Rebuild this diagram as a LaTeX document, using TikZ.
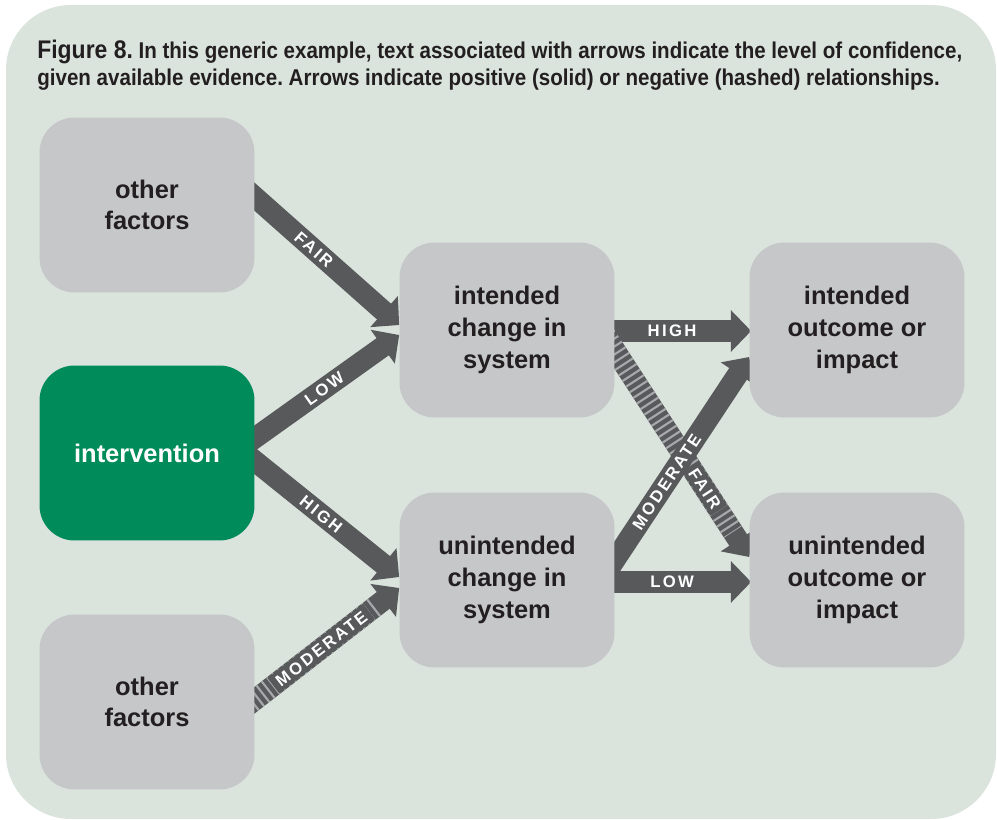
\documentclass[tikz,border=0pt]{standalone}
\usepackage{fontspec}
\setmainfont{Liberation Sans}
\newfontfamily\lblfont{Liberation Sans}[LetterSpace=14]
\newfontfamily\capfont{Liberation Sans}[FakeStretch=0.9]
\usepackage{tikz}
\usetikzlibrary{arrows.meta}
\usetikzlibrary{calc}
\frenchspacing

\definecolor{panel}{HTML}{DAE4DD}
\definecolor{boxgray}{HTML}{C6C7C9}
\definecolor{intgreen}{HTML}{008B5B}
\definecolor{arrgray}{HTML}{58595B}
\definecolor{stripegray}{HTML}{A7A9AC}
\definecolor{ink}{HTML}{231F20}

\pgfdeclarelayer{back}
\pgfdeclarelayer{links}
\pgfsetlayers{back,links,main}

\begin{document}
\begin{tikzpicture}
    [x=0.02cm, y=-0.02cm, every node/.style={text=ink},
    box/.style={fill=boxgray, rounded corners=0.7cm, minimum width=4.3cm,
      minimum height=3.5cm, align=center, inner sep=0pt,
      font=\bfseries\fontsize{14.5}{18}\selectfont},
    link/.style={draw=arrgray, line width=12pt, shorten <=-10pt,
      -{Triangle[length=11.5pt, width=23pt]}},
    hash/.style={draw=stripegray, line width=12pt, shorten <=-10pt,
      shorten >=17pt, dash pattern=on 1.2pt off 2.6pt},
    conf/.style={sloped, text=white, inner xsep=4pt, inner ysep=0pt,
      minimum height=11pt, text height=6.8pt, text depth=0pt,
      font=\lblfont\bfseries\fontsize{9.5}{10}\selectfont},
    confbox/.style={conf, fill=arrgray},
    caption/.style={anchor=base west, inner sep=0pt,
      font=\capfont\bfseries\fontsize{13}{15}\selectfont}]

    % panel
    \useasboundingbox (0,0) rectangle (997,820);
    \begin{pgfonlayer}{back}
      \fill[panel, rounded corners=1.3cm] (6,5) rectangle (996,819);
    \end{pgfonlayer}

    % caption
    \node[caption] (cap1) at (37,59)
      {{\fontsize{14.5}{15}\selectfont Figure 8.} In this generic example, text associated with arrows indicate the level of confidence,};
    \node[caption] (cap2) at (37,86)
      {given available evidence. Arrows indicate positive (solid) or negative (hashed) relationships.};

    % boxes
    \node[box] (of1) at (147,205) {other\\factors};
    \node[box, fill=intgreen, text=white] (int) at (147,453) {intervention};
    \node[box] (of2) at (147,702) {other\\factors};
    \node[box] (ich) at (507,330) {intended\\change in\\system};
    \node[box] (uch) at (507,580) {unintended\\change in\\system};
    \node[box] (iout) at (857,330) {intended\\outcome or\\impact};
    \node[box] (uout) at (857,580) {unintended\\outcome or\\impact};

    \begin{pgfonlayer}{links}
      % left side
      \draw[link] ($(of1.east)+(0,-8)$) -- ($(ich.west)+(0,-5)$)
        node[conf, pos=0.41] {FAIR};
      \draw[link] ($(int.east)+(0,-15)$) -- ($(ich.west)+(0,5)$)
        node[conf, pos=0.48] {LOW};
      \draw[link] ($(int.east)+(0,8)$) -- ($(uch.west)+(0,-3)$)
        node[conf, pos=0.46] {HIGH};
      \draw[link] ($(of2.east)+(0,-2)$) -- ($(uch.west)+(0,8)$);
      \draw[hash] ($(of2.east)+(0,-2)$) -- ($(uch.west)+(0,8)$)
        node[confbox, pos=0.46, inner xsep=3pt] {MODERATE};

      % right side
      \draw[link] ($(ich.east)+(0,1)$) -- ($(iout.west)+(2,1)$)
        node[conf, pos=0.42] {HIGH};
      \draw[link] ($(uch.east)+(0,2)$) -- ($(uout.west)+(2,2)$)
        node[conf, pos=0.42] {LOW};
      \draw[link] ($(ich.east)+(0,20)$) -- ($(uout.west)+(0,-23)$);
      \draw[hash] ($(ich.east)+(0,20)$) -- ($(uout.west)+(0,-23)$)
        node[confbox, pos=0.67, inner xsep=2pt] {FAIR};
      \draw[link] ($(uch.east)+(0,-20)$) -- ($(iout.west)+(0,27)$)
        node[conf, pos=0.385] {MODERATE};
    \end{pgfonlayer}

\end{tikzpicture}
\end{document}
